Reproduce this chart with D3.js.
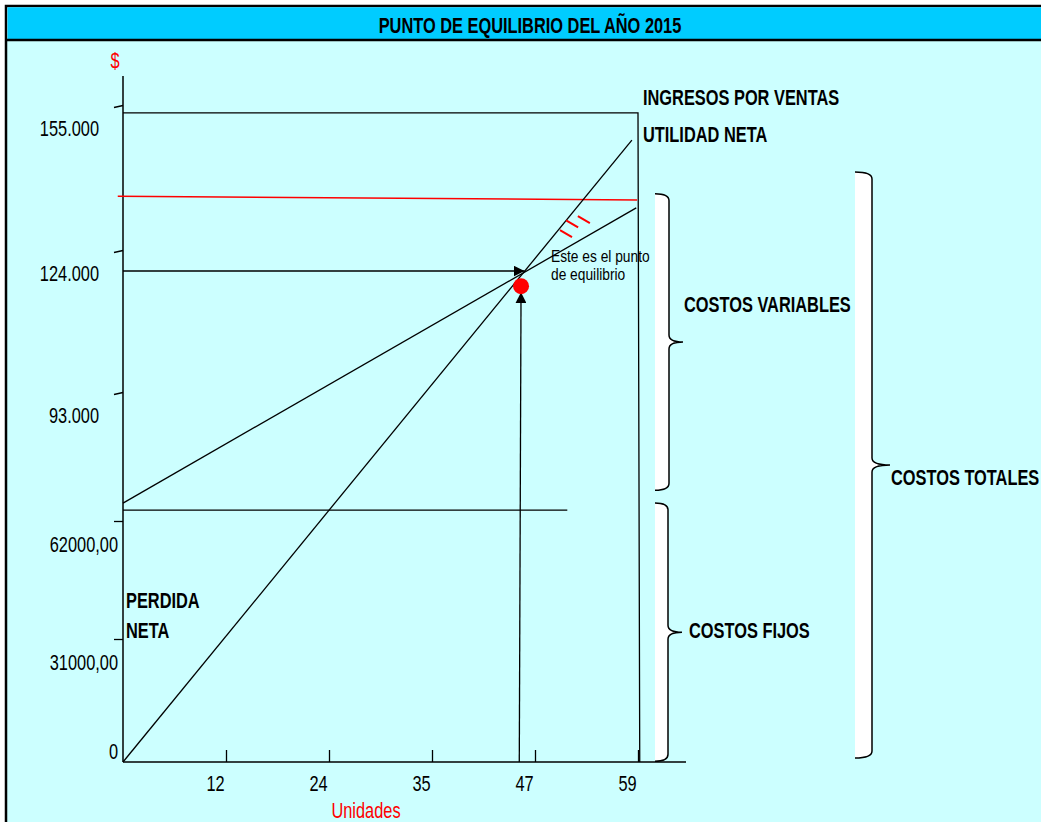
<!doctype html>
<html>
<head>
<meta charset="utf-8"/>
<title>Punto de equilibrio del año 2015</title>
<script src="https://d3js.org/d3.v7.min.js"></script>
<style>
body { margin: 0; background: #fff; }
text { font-family: "Liberation Sans", Arial, sans-serif; }
</style>
</head>
<body>
<script type="text/javascript">
// ---- datos ----
var unidadesTicks  = [11.8, 23.6, 35.4, 47.2, 59];
var unidadesLabels = ["12", "24", "35", "47", "59"];
var pesosTicks  = [0, 31000, 62000, 93000, 124000, 155000];
var pesosLabels = ["0", "31000,00", "62000,00", "93.000", "124.000", "155.000"];

var ingresosU = [0, 58.3];
var ingresosV = [0, 147500];
var costosTotalesU = [0, 58.8];
var costosTotalesV = [66300, 133000];
var costosFijosU = [0, 50.9];
var costosFijosV = [64600, 64600];
var lineaRojaU = [-0.6, 58.9];
var lineaRojaV = [135500, 134700];
var marcoU = [0, 59, 59.2];
var marcoV = [153300, 153300, 0];
var flechaHU = [0, 46];
var flechaHV = [119400, 119400];
var flechaVU = [45.4, 45.6];
var flechaVV = [0, 114800];
var equilibrioU = [45.6];
var equilibrioV = [116100];
var rayasU = [50.75, 51.45, 52.8];
var rayasV = [127500, 129600, 130500];

var llaves      = ["COSTOS VARIABLES", "COSTOS FIJOS", "COSTOS TOTALES"];
var llavesDesde = [69400, 200, 1000];
var llavesHasta = [136000, 66300, 140700];

// ---- dibujo ----
var K = 0.745; // fuente "narrow"

var svg = d3.select("body").append("svg")
    .attr("width", 1041)
    .attr("height", 822);

function texto(px, py, s, size, opts) {
    opts = opts || {};
    return svg.append("text")
        .attr("transform", "translate(" + px + "," + py + ") scale(" + (opts.k || K) + ",1)")
        .attr("font-size", size)
        .attr("font-weight", opts.bold ? "bold" : "normal")
        .attr("text-anchor", opts.anchor || "start")
        .attr("fill", opts.color || "#000")
        .text(s);
}

// fondo y barra de titulo
svg.append("rect").attr("x", 6).attr("y", 6).attr("width", 1100).attr("height", 900)
    .attr("fill", "#CCFFFF").attr("stroke", "#000").attr("stroke-width", 2.5);
svg.append("rect").attr("x", 7.5).attr("y", 7.3).attr("width", 1100).attr("height", 32)
    .attr("fill", "#00CCFF");
svg.append("line").attr("x1", 6).attr("x2", 1041).attr("y1", 40).attr("y2", 40)
    .attr("stroke", "#000").attr("stroke-width", 2.5);
texto(530, 33, "PUNTO DE EQUILIBRIO DEL AÑO 2015", 22, {bold: true, anchor: "middle"});

var x = d3.scaleLinear().domain([0, 59]).range([123, 638]);
var y = d3.scaleLinear().domain(pesosTicks).range([762, 639, 521, 392, 250, 105]);

var linea = d3.line()
    .x(function(d){ return x(d[0]); })
    .y(function(d){ return y(d[1]); });

// flechas
var defs = svg.append("defs");
defs.append("marker")
    .attr("id", "punta")
    .attr("viewBox", "0 0 10 10")
    .attr("refX", 10).attr("refY", 5)
    .attr("markerWidth", 11).attr("markerHeight", 11)
    .attr("markerUnits", "userSpaceOnUse")
    .attr("orient", "auto")
  .append("path")
    .attr("d", "M0,0 L10,5 L0,10 Z")
    .attr("fill", "#000");

// llaves (fondo blanco y trazo)
var llaveX = [[655, 669, 683], [655, 668, 682], [855, 872, 890]];
var llaveLabel = [[684, -30], [689, 6], [891, 20]];
llaves.forEach(function(nombre, i) {
    var top = y(llavesHasta[i]), bot = y(llavesDesde[i]), mid = (top + bot) / 2;
    var x0 = llaveX[i][0], x1 = llaveX[i][1], tip = llaveX[i][2];
    var d = "M" + x0 + "," + top +
        " Q" + x1 + "," + top + " " + x1 + "," + (top + 7) +
        " L" + x1 + "," + (mid - 7) +
        " Q" + x1 + "," + mid + " " + tip + "," + mid +
        " Q" + x1 + "," + mid + " " + x1 + "," + (mid + 7) +
        " L" + x1 + "," + (bot - 7) +
        " Q" + x1 + "," + bot + " " + x0 + "," + bot;
    svg.append("path").attr("d", d + " Z").attr("fill", "#fff").attr("stroke", "none");
    svg.append("path").attr("d", d).attr("fill", "none").attr("stroke", "#000").attr("stroke-width", 1.5);
    texto(llaveLabel[i][0], mid + llaveLabel[i][1], nombre, 22, {bold: true});
});

// ejes
svg.append("line")
    .attr("x1", x(0)).attr("x2", x(0))
    .attr("y1", y(0)).attr("y2", y(161200))
    .attr("stroke", "#000").attr("stroke-width", 1.5);
svg.append("line")
    .attr("x1", x(0)).attr("x2", x(64.5))
    .attr("y1", y(0)).attr("y2", y(0))
    .attr("stroke", "#000").attr("stroke-width", 1.5);

var ejeX = svg.append("g")
    .attr("transform", "translate(0," + y(0) + ")")
    .call(d3.axisBottom(x)
        .tickValues(unidadesTicks)
        .tickFormat(function(d, i){ return unidadesLabels[i]; })
        .tickSizeInner(-12).tickSizeOuter(0).tickPadding(13));
ejeX.select(".domain").remove();
ejeX.selectAll("line").attr("stroke-width", 1.3);
ejeX.selectAll("text")
    .attr("font-size", 22).attr("font-family", "Liberation Sans, Arial, sans-serif")
    .attr("transform", "translate(-11,0) scale(" + K + ",1)");

var ejeY = svg.append("g")
    .attr("transform", "translate(" + x(0) + ",0)")
    .call(d3.axisLeft(y)
        .tickValues(pesosTicks)
        .tickFormat(function(d, i){ return pesosLabels[i]; })
        .tickSizeInner(9).tickSizeOuter(0));
ejeY.select(".domain").remove();
ejeY.selectAll(".tick line")
    .attr("y2", function(d){ return d >= 93000 ? 2 : 0; })
    .attr("stroke-width", 1.3)
    .attr("display", function(d){ return d === 0 ? "none" : null; });
ejeY.selectAll("text")
    .attr("x", 0).attr("dy", 0)
    .attr("font-size", 22).attr("font-family", "Liberation Sans, Arial, sans-serif")
    .attr("transform", function(d, i) {
        var dx = pesosLabels[i].indexOf(".") >= 0 ? -24 : -5;
        var dy = d === 0 ? -4 : 30;
        return "translate(" + dx + "," + dy + ") scale(" + K + ",1)";
    });

// rotulos de ejes
texto(115, 68, "$", 22, {anchor: "middle", color: "#ff0000"});
texto(366, 818, "Unidades", 22, {anchor: "middle", color: "#ff0000"});

// lineas del grafico
function serie(u, v, color, w) {
    return svg.append("path")
        .attr("d", linea(d3.zip(u, v)))
        .attr("fill", "none")
        .attr("stroke", color)
        .attr("stroke-width", w || 1.3);
}
serie(marcoU, marcoV, "#000");
serie(lineaRojaU, lineaRojaV, "#ff0000", 1.5);
serie(costosFijosU, costosFijosV, "#000");
serie(costosTotalesU, costosTotalesV, "#000");
serie(ingresosU, ingresosV, "#000");
serie(flechaHU, flechaHV, "#000", 1.5).attr("marker-end", "url(#punta)");
serie(flechaVU, flechaVV, "#000", 1.3).attr("marker-end", "url(#punta)");

// rayas rojas (utilidad)
svg.selectAll(".raya")
    .data(d3.zip(rayasU, rayasV))
    .enter().append("line")
    .attr("class", "raya")
    .attr("x1", function(d){ return x(d[0]) - 6; })
    .attr("y1", function(d){ return y(d[1]) - 3.5; })
    .attr("x2", function(d){ return x(d[0]) + 6; })
    .attr("y2", function(d){ return y(d[1]) + 3.5; })
    .attr("stroke", "#ff0000")
    .attr("stroke-width", 2);

// punto de equilibrio
svg.selectAll(".eq")
    .data(d3.zip(equilibrioU, equilibrioV))
    .enter().append("circle")
    .attr("class", "eq")
    .attr("cx", function(d){ return x(d[0]); })
    .attr("cy", function(d){ return y(d[1]); })
    .attr("r", 8)
    .attr("fill", "#ff0000");

texto(551, 262, "Este es el punto", 17, {k: 0.81});
texto(551, 280, "de equilibrio", 17, {k: 0.81});

// etiquetas
texto(643, 105, "INGRESOS POR VENTAS", 22, {bold: true});
texto(643, 142, "UTILIDAD NETA", 22, {bold: true});
texto(126, 608, "PERDIDA", 22, {bold: true});
texto(126, 638, "NETA", 22, {bold: true});
</script>
</body>
</html>
